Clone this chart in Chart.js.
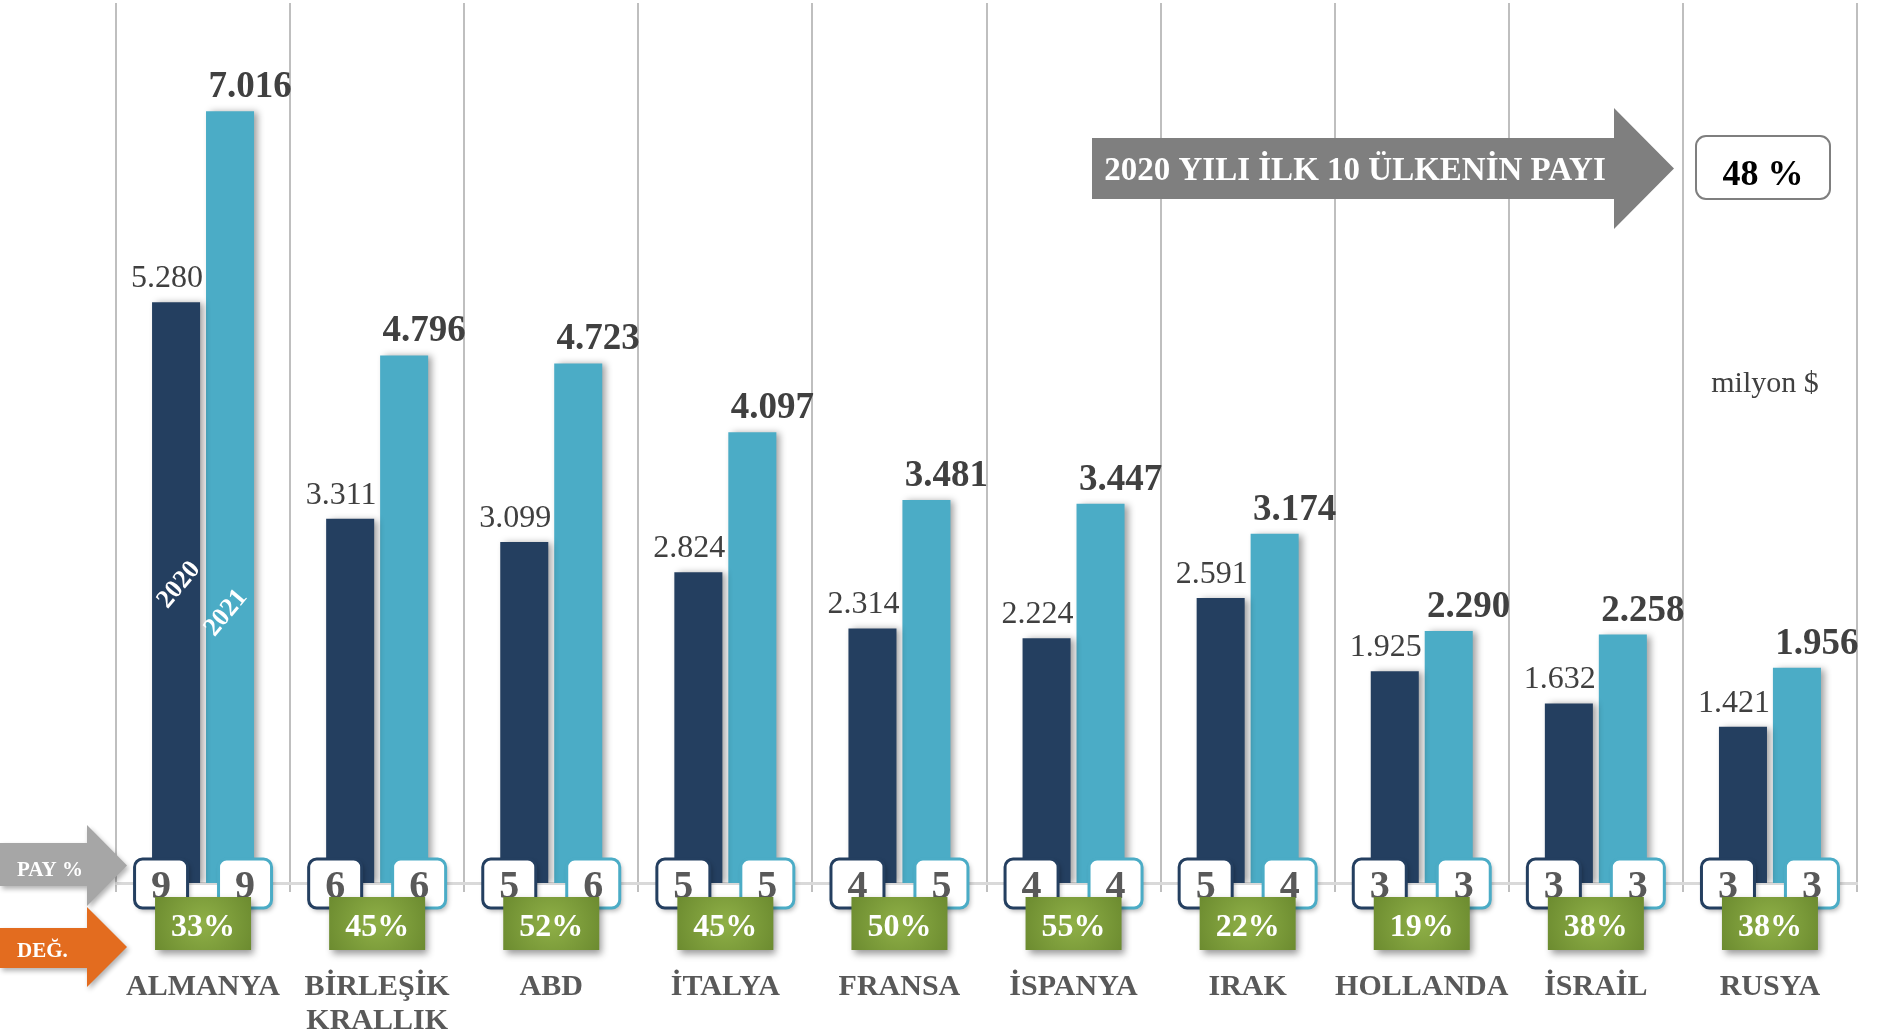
<!DOCTYPE html>
<html lang="tr">
<head>
<meta charset="utf-8">
<title>İhracat - ilk 10 ülke</title>
<script src="https://cdn.jsdelivr.net/npm/chart.js@4.4.1/dist/chart.umd.min.js"></script>
<style>
  html, body { margin: 0; padding: 0; background: #ffffff; }
  #wrap { width: 1880px; height: 1029px; position: relative; }
</style>
</head>
<body>
<div id="wrap"><canvas id="ulkeChart" width="1880" height="1029"></canvas></div>
<script>
// Veriler
const ulkeler = [["ALMANYA"], ["BİRLEŞİK", "KRALLIK"], ["ABD"], ["İTALYA"], ["FRANSA"], ["İSPANYA"], ["IRAK"], ["HOLLANDA"], ["İSRAİL"], ["RUSYA"]];
const yillar = ["2020", "2021"];
const deger2020 = [5280, 3311, 3099, 2824, 2314, 2224, 2591, 1925, 1632, 1421];
const deger2021 = [7016, 4796, 4723, 4097, 3481, 3447, 3174, 2290, 2258, 1956];
const pay2020 = [9, 6, 5, 5, 4, 4, 5, 3, 3, 3];
const pay2021 = [9, 6, 6, 5, 5, 4, 4, 3, 3, 3];
const degisim = ["33%", "45%", "52%", "45%", "50%", "55%", "22%", "19%", "38%", "38%"];
const toplamPayMetni = "2020 YILI İLK 10 ÜLKENİN PAYI";
const toplamPay = "48 %";
const birim = "milyon $";
const Y_MAX = 8000;

const SERIF = "'Liberation Serif', 'Times New Roman', serif";
const renk2020 = "#243F60";
const renk2021 = "#4BACC6";

function binlik(v) {
  return String(v).replace(/\B(?=(\d{3})+(?!\d))/g, ".");
}

function ok(ctx, bodyTop, bodyBot, headX, headTop, headBot, tipX, color, x0) {
  ctx.beginPath();
  ctx.moveTo(x0 || 0, bodyTop);
  ctx.lineTo(headX, bodyTop);
  ctx.lineTo(headX, headTop);
  ctx.lineTo(tipX, (headTop + headBot) / 2);
  ctx.lineTo(headX, headBot);
  ctx.lineTo(headX, bodyBot);
  ctx.lineTo(x0 || 0, bodyBot);
  ctx.closePath();
  ctx.fillStyle = color;
  ctx.fill();
}

const eklerPlugin = {
  id: "ekler",
  beforeDatasetsDraw(chart) {
    // bar golgesi
    const ctx = chart.ctx;
    ctx.save();
    ctx.shadowColor = "rgba(0,0,0,0.38)";
    ctx.shadowBlur = 7;
    ctx.shadowOffsetX = 4;
    ctx.shadowOffsetY = 1;
  },
  afterDatasetsDraw(chart) {
    const ctx = chart.ctx;
    ctx.restore();
    const alt = chart.chartArea.bottom;
    const m0 = chart.getDatasetMeta(0).data;
    const m1 = chart.getDatasetMeta(1).data;

    // deger etiketleri
    ctx.save();
    ctx.textAlign = "center";
    ctx.textBaseline = "alphabetic";
    ctx.fillStyle = "#404040";
    m0.forEach((bar, i) => {
      ctx.font = "32px " + SERIF;
      ctx.fillText(binlik(deger2020[i]), bar.x - 9, bar.y - 15);
    });
    m1.forEach((bar, i) => {
      ctx.font = "bold 37px " + SERIF;
      ctx.fillText(binlik(deger2021[i]), bar.x + 20, bar.y - 14);
    });

    // yil yazilari (ilk cubuklar icinde)
    ctx.fillStyle = "#ffffff";
    ctx.font = "bold 26px " + SERIF;
    ctx.textBaseline = "middle";
    [[m0[0], yillar[0], 3, 298], [m1[0], yillar[1], -4, 270]].forEach(([bar, t, dx, dy]) => {
      ctx.save();
      ctx.translate(bar.x + dx, alt - dy);
      ctx.rotate(-50 * Math.PI / 180);
      ctx.fillText(t, 0, 0);
      ctx.restore();
    });
    ctx.restore();

    // PAY % kutulari
    const kutuW = 53, kutuH = 49, kutuTop = alt - 24;
    [[m0, pay2020, renk2020, -15], [m1, pay2021, renk2021, 15]].forEach(([meta, paylar, renk, dx]) => {
      meta.forEach((bar, i) => {
        const cx = bar.x + dx;
        ctx.save();
        ctx.shadowColor = "rgba(0,0,0,0.3)";
        ctx.shadowBlur = 5;
        ctx.shadowOffsetX = 2;
        ctx.shadowOffsetY = 3;
        ctx.beginPath();
        ctx.roundRect(cx - kutuW / 2, kutuTop, kutuW, kutuH, 8);
        ctx.fillStyle = "#ffffff";
        ctx.fill();
        ctx.shadowColor = "transparent";
        ctx.lineWidth = 3;
        ctx.strokeStyle = renk;
        ctx.stroke();
        ctx.restore();
        ctx.save();
        ctx.font = "bold 40px " + SERIF;
        ctx.fillStyle = "#595959";
        ctx.textAlign = "center";
        ctx.textBaseline = "alphabetic";
        ctx.fillText(String(paylar[i]), cx, alt + 15);
        ctx.restore();
      });
    });

    // degisim kutulari
    const xs = chart.scales.x;
    degisim.forEach((t, i) => {
      const cx = xs.getPixelForValue(i);
      const w = 96, h = 53, top = alt + 14;
      ctx.save();
      const g = ctx.createRadialGradient(cx, top + h / 2, 0, cx, top + h / 2, 56);
      g.addColorStop(0, "#8FB047");
      g.addColorStop(1, "#6B8A2F");
      ctx.shadowColor = "rgba(0,0,0,0.4)";
      ctx.shadowBlur = 7;
      ctx.shadowOffsetX = 3;
      ctx.shadowOffsetY = 4;
      ctx.fillStyle = g;
      ctx.fillRect(cx - w / 2, top, w, h);
      ctx.shadowColor = "transparent";
      ctx.font = "bold 32px " + SERIF;
      ctx.fillStyle = "#ffffff";
      ctx.textAlign = "center";
      ctx.textBaseline = "alphabetic";
      ctx.fillText(t, cx, top + 39);
      ctx.restore();
    });
  },
  afterDraw(chart) {
    const ctx = chart.ctx;
    ctx.save();
    // sol oklar
    ctx.shadowColor = "rgba(0,0,0,0.3)";
    ctx.shadowBlur = 5;
    ctx.shadowOffsetX = 2;
    ctx.shadowOffsetY = 3;
    ok(ctx, 843, 886, 87, 825, 906, 127, "#A6A6A6");
    ok(ctx, 928, 968, 87, 907, 987, 127, "#E36C1F");
    ctx.shadowColor = "transparent";
    ctx.fillStyle = "#ffffff";
    ctx.font = "bold 21px " + SERIF;
    ctx.textAlign = "left";
    ctx.textBaseline = "alphabetic";
    ctx.fillText("PAY %", 17, 876);
    ctx.fillText("DEĞ.", 17, 957);

    // buyuk ok
    ok(ctx, 138, 199, 1614, 108, 229, 1674, "#7F7F7F", 1092);
    ctx.fillStyle = "#ffffff";
    ctx.font = "bold 33px " + SERIF;
    ctx.textAlign = "center";
    ctx.fillText(toplamPayMetni, 1355, 180);

    // 48 % kutusu
    ctx.beginPath();
    ctx.roundRect(1696, 136, 134, 63, 10);
    ctx.fillStyle = "#ffffff";
    ctx.fill();
    ctx.lineWidth = 2;
    ctx.strokeStyle = "#7F7F7F";
    ctx.stroke();
    ctx.fillStyle = "#000000";
    ctx.font = "bold 36px " + SERIF;
    ctx.fillText(toplamPay, 1763, 185);

    // birim
    ctx.fillStyle = "#404040";
    ctx.font = "30px " + SERIF;
    ctx.fillText(birim, 1765, 392);
    ctx.restore();
  }
};

new Chart(document.getElementById("ulkeChart"), {
  type: "bar",
  data: {
    labels: ulkeler,
    datasets: [
      {
        label: yillar[0],
        data: deger2020,
        backgroundColor: renk2020,
        borderWidth: 0,
        categoryPercentage: 0.62,
        barPercentage: 0.89,
      },
      {
        label: yillar[1],
        data: deger2021,
        backgroundColor: renk2021,
        borderWidth: 0,
        categoryPercentage: 0.62,
        barPercentage: 0.89,
      },
    ],
  },
  options: {
    responsive: false,
    devicePixelRatio: 1,
    animation: false,
    layout: {
      padding: { left: 116, right: 23, top: 3, bottom: 0 },
    },
    plugins: {
      legend: { display: false },
      tooltip: { enabled: false },
    },
    scales: {
      y: {
        display: false,
        min: 0,
        max: Y_MAX,
      },
      x: {
        grid: {
          color: "#BFBFBF",
          lineWidth: 2,
          tickLength: 9,
          offset: true,
        },
        border: {
          color: "#D9D9D9",
          width: 3,
        },
        ticks: {
          color: "#595959",
          padding: 78,
          maxRotation: 0,
          autoSkip: false,
          font: {
            family: SERIF,
            size: 30,
            weight: "bold",
            lineHeight: 1.13,
          },
        },
        afterFit(scale) {
          scale.height = 146;
          scale.paddingLeft = 0;
          scale.paddingRight = 0;
        },
      },
    },
  },
  plugins: [eklerPlugin],
});
</script>
</body>
</html>
